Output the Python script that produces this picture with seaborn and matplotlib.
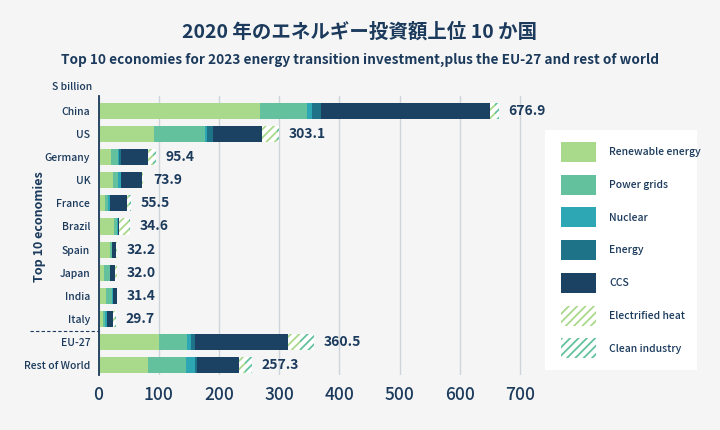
import matplotlib
matplotlib.use("Agg")
import matplotlib.pyplot as plt
import matplotlib.transforms as mtransforms
from matplotlib.patches import Patch, Rectangle
import seaborn as sns
import pandas as pd
import numpy as np

categories = ["China", "US", "Germany", "UK", "France", "Brazil", "Spain",
              "Japan", "India", "Italy", "EU-27", "Rest of World"]
renewable = [268, 92.6, 20.7, 23.5, 11.3, 26.2, 19.1, 9.6, 12.4, 7.5, 100.3, 82.6]
power_grids = [78, 84, 12.2, 8.8, 5.0, 4.0, 2.7, 9.4, 10.5, 3.8, 47.0, 62.5]
nuclear = [8, 2.8, 1.6, 4.5, 2.2, 1.4, 1.1, 0.9, 1.1, 2.2, 6.7, 15.4]
energy = [15, 10, 2.5, 0, 0, 0, 0, 0, 0, 0, 6.5, 2.5]
ccs = [282, 82.2, 45.6, 34.8, 28.8, 2.9, 6.1, 7.5, 6.2, 11.1, 155, 70]
electrified_heat = [7, 25, 8.5, 1.5, 3, 16, 1.5, 2.5, 0, 2.5, 19, 10]
clean_industry = [7, 2.5, 3.8, 1.2, 3, 2, 0.7, 1.3, 0, 1.4, 22.9, 11.6]
totals = [676.9, 303.1, 95.4, 73.9, 55.5, 34.6, 32.2, 32.0, 31.4, 29.7, 360.5, 257.3]
series_names = ["Renewable energy", "Power grids", "Nuclear", "Energy", "CCS",
                "Electrified heat", "Clean industry"]
xticks = [0, 100, 200, 300, 400, 500, 600, 700]

colors = ["#a9d98a", "#63c29d", "#2da7b4", "#1f7389", "#1b4263", "#a9d98a", "#63c29d"]
hatched = [False, False, False, False, False, True, True]
navy = "#1b3a5c"

sns.set_theme(style="white")
plt.rcParams["font.family"] = ["Noto Sans CJK JP", "DejaVu Sans"]
plt.rcParams["hatch.linewidth"] = 1.3

df = pd.DataFrame({"country": categories})
series = [renewable, power_grids, nuclear, energy, ccs, electrified_heat, clean_industry]
cum = np.cumsum(np.array(series, dtype=float), axis=0)
for name, c in zip(series_names, cum):
    df[name] = c

fig = plt.figure(figsize=(7.2, 4.3), dpi=100)
fig.patch.set_facecolor("#f5f5f5")
ax = fig.add_axes([98.5 / 720, 1 - 375 / 430, (523 - 98.5) / 720, (375 - 96) / 430])
ax.set_facecolor("#f5f5f5")

# draw cumulative bars from last to first so earlier segments overlay
for i in range(len(series_names) - 1, -1, -1):
    name = series_names[i]
    if hatched[i]:
        sns.barplot(data=df, y="country", x=name, orient="h", ax=ax,
                    color="white", width=0.7, linewidth=0, edgecolor=colors[i],
                    hatch="////", saturation=1)
    else:
        sns.barplot(data=df, y="country", x=name, orient="h", ax=ax,
                    color=colors[i], width=0.7, linewidth=0, saturation=1)

for bar in ax.patches:
    if bar.get_hatch():
        bar.set_facecolor("white")

ax.set_xlim(0, 705)
ax.set_ylim(11.42, -0.64)
ax.set_xticks(xticks)
ax.set_xticklabels([str(t) for t in xticks])
ax.set_xlabel("")
ax.set_ylabel("")
ax.grid(axis="x", color="#cfd4da", linewidth=1)
ax.grid(axis="y", visible=False)
ax.set_axisbelow(True)
for s in ["top", "right", "bottom"]:
    ax.spines[s].set_visible(False)
ax.spines["left"].set_color(navy)
ax.spines["left"].set_linewidth(1.3)
ax.tick_params(axis="x", length=0, labelsize=12.5, labelcolor=navy, pad=8)
ax.tick_params(axis="y", length=0, labelsize=7.5, labelcolor=navy, pad=6)
for lab in ax.get_xticklabels():
    lab.set_fontweight("medium")
for lab in ax.get_yticklabels():
    lab.set_fontweight("medium")

end_vals = cum[-1]
for yi, (end, tot) in enumerate(zip(end_vals, totals)):
    ax.annotate(f"{tot:.1f}", xy=(end, yi), xytext=(7, 0), textcoords="offset points",
                ha="left", va="center", fontsize=10, color=navy, fontweight="bold")

trans = mtransforms.blended_transform_factory(ax.transAxes, ax.transData)
ax.plot([-0.162, 0], [9.5, 9.5], transform=trans, color=navy, linestyle=(0, (3, 2)),
        linewidth=0.8, clip_on=False)

ax.text(-0.14, 5.0, "Top 10 economies", transform=trans, rotation=90, ha="center",
        va="center", fontsize=9, fontweight="bold", color=navy)

fig.text(92 / 720, 1 - 87 / 430, "S billion", ha="right", va="center", fontsize=7.5,
         color=navy, fontweight="medium")

fig.text(0.5, 1 - 32 / 430, "2020 年のエネルギー投資額上位 10 か国", ha="center", va="center",
         fontsize=14, fontweight="bold", color=navy)
fig.text(0.5, 1 - 60 / 430,
         "Top 10 economies for 2023 energy transition investment,plus the EU-27 and rest of world",
         ha="center", va="center", fontsize=9.8, fontweight="bold", color=navy)

fig.patches.append(Rectangle((545 / 720, 1 - 370 / 430), (697 - 545) / 720, 240 / 430,
                             transform=fig.transFigure, facecolor="white",
                             edgecolor="none", zorder=0))
handles = []
for name, c, h in zip(series_names, colors, hatched):
    if h:
        handles.append(Patch(facecolor="white", edgecolor=c, hatch="////", linewidth=0, label=name))
    else:
        handles.append(Patch(facecolor=c, edgecolor="none", linewidth=0, label=name))
leg = fig.legend(handles=handles, loc="upper left", bbox_to_anchor=(561 / 720, 1 - 142 / 430),
                 frameon=False, fontsize=7.5, handlelength=3.35, handleheight=2.58,
                 labelspacing=1.22, handletextpad=1.25, borderpad=0, borderaxespad=0)
for t in leg.get_texts():
    t.set_color(navy)
    t.set_fontweight("medium")

fig.savefig("out.png", dpi=100, facecolor=fig.get_facecolor())
